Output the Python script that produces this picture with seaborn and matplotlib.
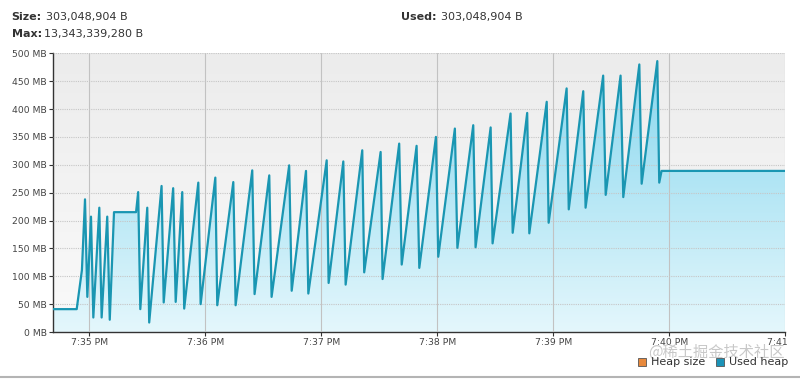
import numpy as np
import pandas as pd
import seaborn as sns
import matplotlib

matplotlib.use("Agg")
import matplotlib.pyplot as plt
import matplotlib.dates as mdates
from matplotlib.colors import LinearSegmentedColormap
from matplotlib.patches import Polygon, Rectangle
from matplotlib.ticker import FuncFormatter, MultipleLocator
from matplotlib.transforms import Bbox, TransformedBbox

# seconds relative to 7:35:00 PM, used heap in MB
START = pd.Timestamp("2024-01-01 19:35:00")
seconds = [
    -18.6, -6.5, -3.8, -2.2, -1.0, 0.9, 2.1, 5.2, 6.4, 9.3, 10.6, 12.8, 24.2,
    25.3, 26.4, 30.0, 31.0, 37.4, 38.5, 43.4, 44.7, 48.1, 49.1, 56.4, 57.6,
    65.2, 66.2, 74.5, 75.7, 84.3, 85.5, 93.1, 94.3, 103.4, 104.7, 112.1, 113.3,
    122.8, 123.8, 131.4, 132.6, 141.2, 142.2, 150.7, 151.7, 160.3, 161.6,
    169.3, 170.7, 179.3, 180.5, 189.1, 190.4, 198.6, 199.8, 207.6, 208.6,
    217.9, 219.0, 226.5, 227.6, 236.6, 237.6, 246.9, 248.0, 255.5, 256.7,
    265.8, 267.1, 274.8, 276.2, 284.5, 285.7, 293.8, 294.8, 296.0, 360.0,
]
used_mb = [
    41, 41, 111, 238, 63, 207, 26, 223, 26, 207, 22, 215, 215,
    251, 41, 223, 17, 262, 53, 258, 54, 251, 42, 268, 50,
    277, 48, 269, 48, 290, 68, 281, 63, 299, 74, 289, 69,
    308, 88, 306, 85, 326, 107, 323, 95, 338, 121,
    334, 115, 350, 135, 365, 151, 371, 152, 367, 159,
    392, 178, 393, 177, 413, 196, 437, 220, 432, 223,
    460, 246, 460, 242, 480, 266, 486, 268, 289, 289,
]
y_ticks = list(range(0, 501, 50))
legend_labels = ["Heap size", "Used heap"]
legend_colors = ["#e8893c", "#1b93b8"]

df = pd.DataFrame({
    "time": START + pd.to_timedelta(seconds, unit="s"),
    "used": used_mb,
})

sns.set_theme(style="white")
plt.rcParams["font.family"] = ["DejaVu Sans", "Noto Sans CJK SC"]

fig = plt.figure(figsize=(8, 3.79), dpi=100)
ax = fig.add_axes([53.3 / 800, 1 - 332 / 379, (785.3 - 53.3) / 800, (332 - 53.3) / 379])

x0 = START - pd.Timedelta(seconds=18.6)
x1 = START + pd.Timedelta(seconds=360)
ext = [mdates.date2num(x0), mdates.date2num(x1), 0, 500]

# grey background gradient
bg_cmap = LinearSegmentedColormap.from_list("bg", ["#fafafa", "#ececec"])
ax.imshow(np.linspace(0, 1, 256).reshape(-1, 1), extent=ext, origin="lower",
          cmap=bg_cmap, aspect="auto", zorder=0)

# blue gradient under the curve
fill_cmap = LinearSegmentedColormap.from_list("fill", ["#e4f7fc", "#86d6ee"])
grad = ax.imshow(np.linspace(0, 1, 256).reshape(-1, 1), extent=ext, origin="lower",
                 cmap=fill_cmap, aspect="auto", zorder=1)
xs = mdates.date2num(df["time"])
verts = np.column_stack([np.r_[xs, xs[-1], xs[0]], np.r_[df["used"], 0, 0]])
poly = Polygon(verts, closed=True, facecolor="none", edgecolor="none", transform=ax.transData)
ax.add_patch(poly)
grad.set_clip_path(poly)

sns.lineplot(data=df, x="time", y="used", color="#1a96b2", lw=1.6, ax=ax, zorder=3)

ax.set_xlim(x0, x1)
ax.set_ylim(0, 500)
ax.set_xlabel("")
ax.set_ylabel("")

ax.set_axisbelow(False)
ax.grid(axis="y", linestyle=(0, (1, 1)), color="#c6c6c6", lw=0.8, zorder=2)
ax.grid(axis="x", linestyle="-", color="#c2c2c2", lw=0.8, zorder=2)

ax.set_yticks(y_ticks)
ax.yaxis.set_major_formatter(FuncFormatter(lambda v, p: f"{int(v)} MB"))
ax.xaxis.set_major_locator(mdates.MinuteLocator())
ax.xaxis.set_major_formatter(FuncFormatter(
    lambda v, p: mdates.num2date(v).strftime("%I:%M %p").lstrip("0")))
ax.tick_params(axis="both", direction="out", length=3, width=0.8, color="#333333",
               labelsize=6.7, labelcolor="#444444", pad=1.5, bottom=True, left=True)

for side in ["top", "right"]:
    ax.spines[side].set_visible(False)
for side in ["left", "bottom"]:
    ax.spines[side].set_color("#333333")
    ax.spines[side].set_linewidth(1.0)

# last x label is cut off at the panel edge
fig.canvas.draw()
clip = TransformedBbox(Bbox.from_extents(0, 0, 787 / 800, 1), fig.transFigure)
for lab in ax.get_xticklabels():
    lab.set_clip_on(True)
    lab.set_clip_box(clip)

# header
hdr = dict(fontsize=8, color="#333333", va="center")
fig.text(11.7 / 800, 1 - 17.3 / 379, "Size:", weight="bold", **hdr)
fig.text(46 / 800, 1 - 17.3 / 379, "303,048,904 B", **hdr)
fig.text(11.7 / 800, 1 - 34.3 / 379, "Max:", weight="bold", **hdr)
fig.text(44.3 / 800, 1 - 34.3 / 379, "13,343,339,280 B", **hdr)
fig.text(400.7 / 800, 1 - 17.3 / 379, "Used:", weight="bold", **hdr)
fig.text(440.7 / 800, 1 - 17.3 / 379, "303,048,904 B", **hdr)

# watermark
fig.text(785 / 800, 1 - 352.7 / 379, "@稀土掘金技术社区", fontsize=11, color="#c8c8c8",
         ha="right", va="center", family=["Noto Sans CJK SC", "DejaVu Sans"], zorder=1)

# legend
for (lx, tx), lab, col in zip([(637.7, 650.7), (716, 729.3)], legend_labels, legend_colors):
    fig.patches.append(Rectangle((lx / 800, 1 - 365.7 / 379), 8 / 800, 8 / 379,
                                 transform=fig.transFigure, facecolor=col,
                                 edgecolor="#555555", lw=0.6, zorder=3))
    fig.text(tx / 800, 1 - 361.7 / 379, lab, fontsize=8, color="#333333",
             va="center", zorder=3)

# separator at the bottom
fig.add_artist(plt.Line2D([0, 1], [1 - 377 / 379] * 2, transform=fig.transFigure,
                          color="#b4b4b4", lw=1.5))

fig.savefig("out.png", dpi=100)
